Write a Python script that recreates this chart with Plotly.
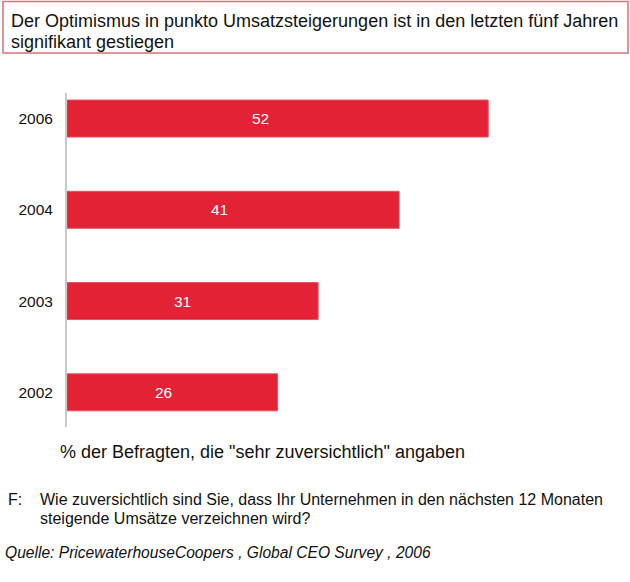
import plotly.graph_objects as go

years = ["2002", "2003", "2004", "2006"]
values = [26, 31, 41, 52]
title_lines = ["Der Optimismus in punkto Umsatzsteigerungen ist in den letzten fünf Jahren",
               "signifikant gestiegen"]
axis_title = '% der Befragten, die "sehr zuversichtlich" angaben'
question_label = "F:"
question_lines = ["Wie zuversichtlich sind Sie, dass Ihr Unternehmen in den nächsten 12 Monaten",
                  "steigende Umsätze verzeichnen wird?"]
source = "Quelle: PricewaterhouseCoopers , Global CEO Survey , 2006"

W, H = 630, 582
ML, MR, MT, MB = 67, 77, 93, 155
PW, PH = W - ML - MR, H - MT - MB

def px(x):
    return (x - ML) / PW

def py(y):
    return (H - MB - y) / PH

FONT = "Liberation Sans, Arial, sans-serif"
RED = "#E32236"

fig = go.Figure(go.Bar(
    y=years, x=values, orientation="h",
    marker=dict(color=RED, line=dict(color="#E8505E", width=1)),
    width=0.405,
    hoverinfo="skip",
))

# value labels inside the bars (slightly left of centre, as in the original)
for i, v in enumerate(values):
    fig.add_annotation(x=v * 0.46, y=i, xref="x", yref="y", text=str(v),
                       showarrow=False, xanchor="center", yanchor="middle",
                       font=dict(color="white", size=15.5, family=FONT))

fig.update_layout(
    width=W, height=H,
    margin=dict(l=ML, r=MR, t=MT, b=MB),
    paper_bgcolor="white", plot_bgcolor="white",
    showlegend=False,
    xaxis=dict(range=[0, 60], visible=False, fixedrange=True),
    yaxis=dict(type="category", range=[-0.38, 3.28], showgrid=False, fixedrange=True,
               showline=True, linecolor="#C8C8C8", linewidth=2,
               ticks="outside", ticklen=9, tickcolor="rgba(0,0,0,0)",
               tickfont=dict(size=15.5, color="#111111", family=FONT)),
    font=dict(family=FONT, color="#111111"),
)

fig.add_shape(type="rect", xref="paper", yref="paper",
              x0=px(3), x1=px(628), y0=py(1.5), y1=py(53),
              line=dict(color="#D9707A", width=1.5), fillcolor="rgba(0,0,0,0)")

ann = []
ann.append(dict(text=title_lines[0], x=px(9), y=py(21), size=18))
ann.append(dict(text=title_lines[1], x=px(9), y=py(42), size=18))
ann.append(dict(text=axis_title, x=px(58), y=py(452), size=18))
ann.append(dict(text=question_label, x=px(6), y=py(499), size=16))
ann.append(dict(text=question_lines[0], x=px(38), y=py(499), size=16))
ann.append(dict(text=question_lines[1], x=px(38), y=py(518), size=16))
ann.append(dict(text="<i>" + source + "</i>", x=px(3), y=py(552), size=15.6))
for a in ann:
    fig.add_annotation(text=a["text"], xref="paper", yref="paper", x=a["x"], y=a["y"],
                       xanchor="left", yanchor="middle", showarrow=False,
                       font=dict(size=a["size"], color="#111111", family=FONT))

fig.write_html("out.html", config={"displayModeBar": False},
               post_script="document.body.style.margin='0';document.body.style.overflow='hidden';")
